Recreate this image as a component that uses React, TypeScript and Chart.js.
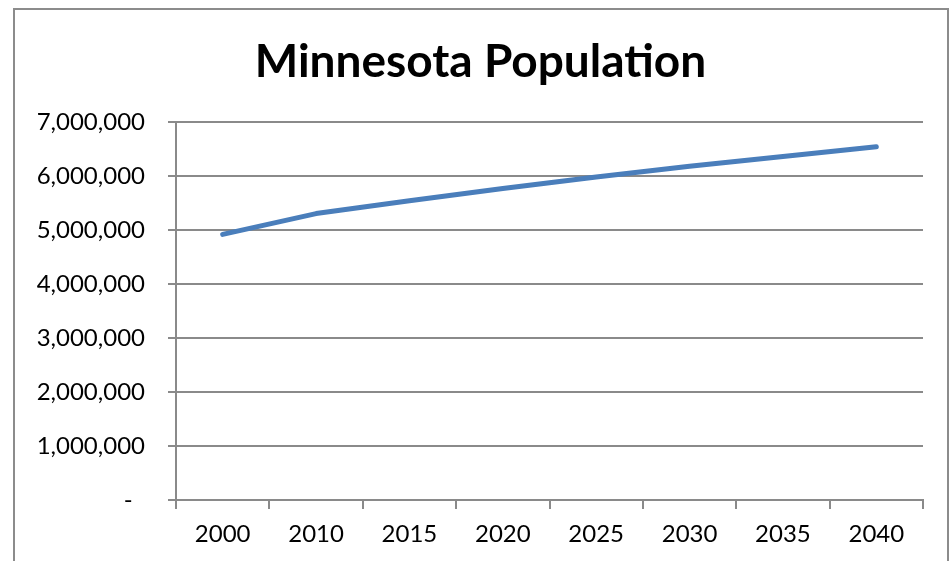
import React, { useEffect, useRef } from "react";
import { Chart, registerables } from "chart.js";

Chart.register(...registerables);

const years = ["2000", "2010", "2015", "2020", "2025", "2030", "2035", "2040"];
const population = [4919479, 5303925, 5540000, 5770000, 5980000, 6180000, 6360000, 6540000];
const yTicks = [0, 1000000, 2000000, 3000000, 4000000, 5000000, 6000000, 7000000];
const chartTitle = "Minnesota Population";

const FONT = "Lato, 'Open Sans', sans-serif";
const GRID = "#8a8a8a";

export default function App() {
  const ref = useRef<HTMLCanvasElement | null>(null);

  useEffect(() => {
    if (!ref.current) return;
    const chart = new Chart(ref.current, {
      type: "line",
      data: {
        labels: years,
        datasets: [
          {
            label: "Population",
            data: population,
            borderColor: "#4a7ebb",
            borderWidth: 5,
            borderCapStyle: "round",
            borderJoinStyle: "round",
            pointRadius: 0,
            tension: 0,
            fill: false,
          },
        ],
      },
      options: {
        animation: false,
        responsive: false,
        maintainAspectRatio: false,
        layout: { padding: { left: 13, right: 4, top: 0, bottom: 0 } },
        plugins: {
          legend: { display: false },
          tooltip: { enabled: false },
          title: {
            display: true,
            text: chartTitle,
            color: "#000",
            font: { family: FONT, size: 46, weight: "bold", lineHeight: 1.2 },
            padding: { top: 35, bottom: 31.8 },
          },
        },
        scales: {
          x: {
            type: "category",
            offset: true,
            grid: {
              offset: true,
              drawOnChartArea: false,
              drawTicks: true,
              tickLength: 9,
              color: GRID,
              lineWidth: 2,
            },
            border: { display: true, color: GRID, width: 2 },
            ticks: {
              color: "#000",
              font: { family: FONT, size: 24 },
              padding: 11,
              maxRotation: 0,
              autoSkip: false,
            },
            afterFit: (s: any) => {
              s.height = 61;
            },
          },
          y: {
            type: "linear",
            min: 0,
            max: 7000000,
            afterBuildTicks: (s: any) => {
              s.ticks = yTicks.map((v) => ({ value: v }));
            },
            grid: {
              drawTicks: true,
              tickLength: 8,
              color: GRID,
              lineWidth: 2,
            },
            border: { display: true, color: GRID, width: 2 },
            ticks: {
              color: "#000",
              font: { family: FONT, size: 24 },
              padding: 23,
              callback: (v: any) => (Number(v) === 0 ? "-  " : Number(v).toLocaleString("en-US")),
            },
            afterFit: (s: any) => {
              s.width = 176 - 13;
            },
          },
          yRight: {
            type: "linear",
            position: "right",
            display: true,
            grid: { display: false, drawTicks: false },
            border: { display: false },
            ticks: { display: false },
            afterFit: (s: any) => {
              s.width = 948 - 4 - 919;
            },
          },
        },
      },
    });
    return () => chart.destroy();
  }, []);

  return (
    <div style={{ position: "absolute", left: 0, top: 0, width: 952, height: 561, background: "#fff", overflow: "hidden" }}>
      <div
        style={{
          position: "absolute",
          left: 13,
          top: 8,
          width: 932,
          height: 600,
          border: "2px solid #8c8c8c",
          boxSizing: "content-box",
        }}
      />
      <canvas ref={ref} width={952} height={561} style={{ position: "absolute", left: 0, top: 0, width: 952, height: 561 }} />
    </div>
  );
}
